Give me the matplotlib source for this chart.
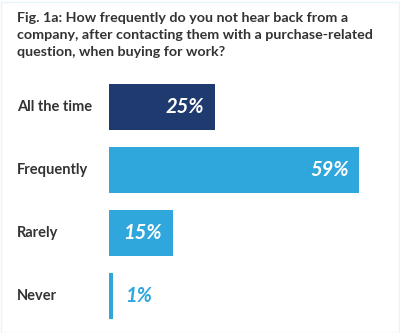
import matplotlib.pyplot as plt
import matplotlib.transforms as mtransforms
from matplotlib.patches import Rectangle

categories = ["All the time", "Frequently", "Rarely", "Never"]
values = [25, 59, 15, 1]
colors = ["#1f3a6e", "#2fa6dc", "#2fa6dc", "#2fa6dc"]

title = ("Fig. 1a: How frequently do you not hear back from a\n"
         "company, after contacting them with a purchase-related\n"
         "question, when buying for work?")

plt.rcParams["font.family"] = ["Lato", "DejaVu Sans"]

fig = plt.figure(figsize=(4, 3.33), dpi=100)
W, H = 400, 333

# light frame around the chart body
fig.patches.append(Rectangle((0.5 / W, 0.5 / H), 398 / W, 331 / H,
                             transform=fig.transFigure, fill=False,
                             edgecolor="#e6f4fb", linewidth=1))

fig.text(17 / W, 1 - 12 / H, title, ha="left", va="top", fontsize=10.25,
         fontweight="bold", color="#333333", linespacing=1.48)

ax = fig.add_axes([109 / W, 1 - 328 / H, 291 / W, 252.5 / H])
scale = 4.24  # px per percent
ax.set_xlim(0, 291 / scale)
ax.set_ylim(3.5, -0.5)
ax.axis("off")

ypos = range(len(categories))
ax.barh(ypos, values, height=0.73, color=colors, edgecolor="none")

trans = mtransforms.blended_transform_factory(fig.transFigure, ax.transData)
for y, cat, v, c in zip(ypos, categories, values, colors):
    fig.text(17 / W, y, cat, transform=trans, ha="left", va="center",
             fontsize=10.5, fontweight="bold", color="#333333")
    if v >= 5:
        ax.text(v - 2.5, y, f"{v}%", ha="right", va="center", fontsize=14.5,
                fontweight="bold", fontstyle="italic", color="white")
    else:
        ax.text(v + 2.7, y, f"{v}%", ha="left", va="center", fontsize=14.5,
                fontweight="bold", fontstyle="italic", color=c)

fig.savefig("out.png", dpi=100)
